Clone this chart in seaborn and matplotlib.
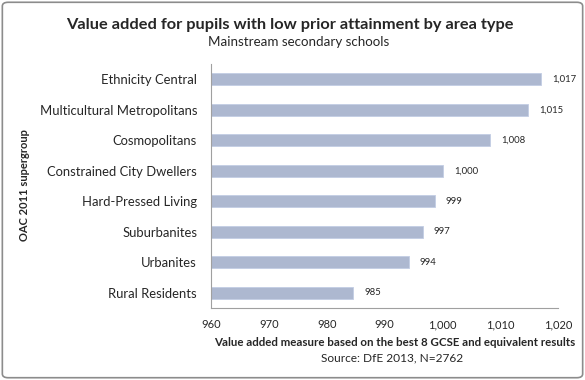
import numpy as np
import pandas as pd
import seaborn as sns
import matplotlib.pyplot as plt
from matplotlib.patches import FancyBboxPatch

# 데이터
groups = ["Ethnicity Central", "Multicultural Metropolitans", "Cosmopolitans",
          "Constrained City Dwellers", "Hard-Pressed Living", "Suburbanites",
          "Urbanites", "Rural Residents"]
value_added = [1017.1, 1014.8, 1008.3, 1000.1, 998.7, 996.6, 994.2, 984.6]
x_ticks = [960, 970, 980, 990, 1000, 1010, 1020]

df = pd.DataFrame({"group": groups, "va": value_added})

sns.set_style("white")
fam = ["Lato", "DejaVu Sans"]
plt.rcParams["font.family"] = fam

fig = plt.figure(figsize=(5.85, 3.8), dpi=100)
ax = fig.add_axes([211 / 585, 1 - 308 / 380, (558 - 211) / 585, (308 - 64) / 380])

sns.barplot(data=df, y="group", x="va", orient="h", color="#a7b6d6",
            width=0.4, ax=ax, edgecolor="#c3cde4", linewidth=0.6)

ax.set_xlim(960, 1020)
ax.set_ylim(7.5, -0.5)
ax.set_xticks(x_ticks)
ax.set_xticklabels([f"{t:,}" for t in x_ticks], fontsize=8)
ax.tick_params(axis="y", length=0, labelsize=9.4, pad=10)
ax.tick_params(axis="x", length=4, width=0.8, color="#a0a0a0", direction="out", pad=4)
ax.set_ylabel("OAC 2011 supergroup", fontsize=8, fontweight="bold")
ax.set_xlabel("Value added measure based on the best 8 GCSE and equivalent results",
              fontsize=8.3, fontweight="bold")
ax.yaxis.set_label_coords(-0.522, 0.504)
ax.xaxis.set_label_coords(0.53, -0.118)

for s in ["top", "right"]:
    ax.spines[s].set_visible(False)
for s in ["left", "bottom"]:
    ax.spines[s].set_color("#a0a0a0")
    ax.spines[s].set_linewidth(0.8)

# 막대 끝 값 표시
for i, v in enumerate(value_added):
    ax.text(v + 1.9, i, f"{round(v):,}", va="center", ha="left", fontsize=6.8)

fig.text(290 / 585, 1 - 25 / 380, "Value added for pupils with low prior attainment by area type",
         ha="center", va="center", fontsize=11.8, fontweight="bold")
fig.text(299 / 585, 1 - 42 / 380, "Mainstream secondary schools",
         ha="center", va="center", fontsize=9.6)
fig.text(392 / 585, 1 - 358 / 380, "Source: DfE 2013, N=2762",
         ha="center", va="center", fontsize=8.6, family=fam)

frame = FancyBboxPatch((0.004, 0.006), 0.992, 0.988, boxstyle="round,pad=0,rounding_size=0.01",
                       transform=fig.transFigure, fill=False, edgecolor="#8c8c8c", linewidth=1.2)
fig.patches.append(frame)

fig.savefig("out.png", dpi=100)
